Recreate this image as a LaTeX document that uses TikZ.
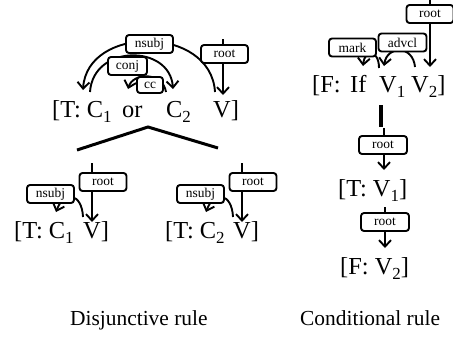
\documentclass[tikz,border=0pt]{standalone}
\usepackage{fontspec}
\setmainfont{Liberation Serif}
\usetikzlibrary{arrows.meta}
\newcommand\mainfnt{\fontsize{24.5}{28}\selectfont}
\newcommand\labfnt{\fontsize{13.5}{15}\selectfont}
\newcommand\capfnt{\fontsize{21.5}{24}\selectfont}
\newcommand\sbs[1]{\raisebox{-5bp}{\fontsize{17}{17}\selectfont #1}}
\begin{document}
\begin{tikzpicture}[x=1bp,y=1bp,
 lab/.style={draw,line width=1.9bp,rounded corners=3bp,fill=white,minimum width=47bp,minimum height=18bp,inner sep=0pt,font=\labfnt},
 tok/.style={anchor=base west,inner sep=0pt,font=\mainfnt},
 captxt/.style={anchor=base west,inner sep=0pt,font=\capfnt},
 arr/.style={line width=1.9bp,-{Straight Barb[length=6.5bp,width=12bp]}},
 barline/.style={line width=3bp}]
\useasboundingbox (0,0) rectangle (453,-341);

% ---------- Disjunctive: top ----------
\node[tok] (t1) at (52,-117) {[T: C\sbs{1}};
\node[tok] (or) at (122,-117) {or};
\node[tok] (c2) at (166,-117) {C\sbs{2}};
\node[tok] (vv) at (213,-117) {V]};
\coordinate (nsA) at (215,-92);
\coordinate (nsB) at (83,-90);
\coordinate (cjA) at (90,-92);
\coordinate (cjB) at (173,-89);
\coordinate (ccA) at (166,-92);
\coordinate (ccB) at (128,-89);
\coordinate (rtA) at (223,-39);
\coordinate (rtB) at (223,-95);
\draw[arr] (nsA) .. controls (211,-25) and (87,-25) .. (nsB);
\draw[arr] (cjA) .. controls (93,-44) and (170,-44) .. (cjB);
\draw[arr] (ccA) .. controls (163,-72) and (133,-72) .. (ccB);
\draw[arr] (rtA) -- (rtB);
\node[lab] (lns) at (149.5,-44) {nsubj};
\node[lab,minimum width=39bp] (lcj) at (127.5,-66) {conj};
\node[lab,minimum width=26bp,minimum height=16bp] (lcc) at (150,-85) {cc};
\node[lab] (lrt) at (224.5,-54) {root};

% triangle
\coordinate (trL) at (77,-150);
\coordinate (trT) at (148,-127);
\coordinate (trR) at (218,-148);
\draw[barline] (trL) -- (trT) -- (trR);

% ---------- Disjunctive: left subtree ----------
\node[tok] (l1) at (14,-238) {[T: C\sbs{1}};
\node[tok] (l2) at (83,-238) {V]};
\coordinate (lrA) at (92,-163);
\coordinate (lrB) at (92,-222);
\coordinate (lnA) at (83,-217);
\coordinate (lnB) at (56,-212);
\draw[arr] (lrA) -- (lrB);
\draw[arr] (lnA) .. controls (82,-193) and (64,-190) .. (lnB);
\node[lab] (llr) at (103,-182) {root};
\node[lab] (lln) at (50.5,-194) {nsubj};

% ---------- Disjunctive: right subtree ----------
\node[tok] (r1) at (165,-238) {[T: C\sbs{2}};
\node[tok] (r2) at (233,-238) {V]};
\coordinate (rrA) at (242,-163);
\coordinate (rrB) at (242,-222);
\coordinate (rnA) at (233,-217);
\coordinate (rnB) at (206,-212);
\draw[arr] (rrA) -- (rrB);
\draw[arr] (rnA) .. controls (232,-193) and (214,-190) .. (rnB);
\node[lab] (rlr) at (253,-182) {root};
\node[lab] (rln) at (200.5,-194) {nsubj};

% ---------- Conditional ----------
\node[tok] (f0) at (312,-92) {[F:};
\node[tok] (f1) at (350,-92) {If};
\node[tok] (f2) at (379,-92) {V\sbs{1}};
\node[tok] (f3) at (411,-92) {V\sbs{2}]};
\coordinate (crA) at (430,0);
\coordinate (crB) at (430,-67);
\coordinate (mkA) at (379,-68);
\coordinate (mkB) at (363,-66);
\coordinate (avA) at (415,-67);
\coordinate (avB) at (384,-66);
\draw[arr] (crA) -- (crB);
\draw[arr] (mkA) .. controls (379,-50) and (365,-48) .. (mkB);
\draw[arr] (avA) .. controls (413,-45) and (387,-45) .. (avB);
\node[lab] (cmk) at (352.5,-47.5) {mark};
\node[lab,minimum width=48bp] (cav) at (402.5,-42.5) {advcl};
\node[lab] (crt) at (430,-14) {root};

\coordinate (bA) at (381,-105);
\coordinate (bB) at (381,-127);
\draw[line width=3.5bp] (bA) -- (bB);

\coordinate (c2A) at (384,-128);
\coordinate (c2B) at (384,-170);
\draw[arr] (c2A) -- (c2B);
\node[lab,minimum width=48bp] (cr2) at (383,-145) {root};
\node[tok] (tv1) at (338,-196) {[T: V\sbs{1}]};

\coordinate (c3A) at (385,-207);
\coordinate (c3B) at (385,-248);
\draw[arr] (c3A) -- (c3B);
\node[lab,minimum width=48bp] (cr3) at (385,-222) {root};
\node[tok] (fv2) at (340,-274) {[F: V\sbs{2}]};

% captions
\node[captxt] (cap1) at (70,-325) {Disjunctive rule};
\node[captxt] (cap2) at (300,-325) {Conditional rule};
\end{tikzpicture}
\end{document}
